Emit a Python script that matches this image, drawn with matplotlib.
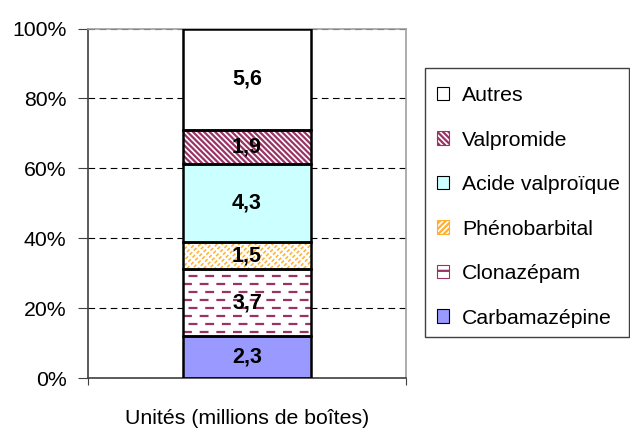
import matplotlib
matplotlib.use("Agg")
import matplotlib.pyplot as plt
import numpy as np

plt.rcParams['font.family'] = ['Liberation Sans', 'DejaVu Sans']
plt.rcParams['hatch.linewidth'] = 1.6

# data (millions de boîtes), bottom to top
drugs = ['Carbamazépine', 'Clonazépam', 'Phénobarbital', 'Acide valproïque', 'Valpromide', 'Autres']
units = [2.3, 3.7, 1.5, 4.3, 1.9, 5.6]
value_labels = ['2,3', '3,7', '1,5', '4,3', '1,9', '5,6']
category = ['Unités (millions de boîtes)']

faces = ['#9999FF', 'white', 'white', '#CCFFFF', 'white', 'white']
hatches = [None, None, '//////', None, '\\\\\\\\\\\\', None]
hatch_cols = ['black', '#993366', '#FFB030', 'black', '#993366', 'black']
hatch_lw = [1.0, 1.0, 1.1, 1.0, 1.6, 1.0]

shares = np.array(units) / sum(units) * 100
bottoms = np.concatenate([[0], np.cumsum(shares)[:-1]])
bar_w = 0.4

fig = plt.figure(figsize=(6.3, 4.32), dpi=100)
ax = fig.add_axes([0.1397, 0.125, 0.5048, 0.809])

handles = []
for i, name in enumerate(drugs):
    with plt.rc_context({'hatch.linewidth': hatch_lw[i]}):
        ax.bar(0, shares[i], bottom=bottoms[i], width=bar_w, color=faces[i],
               hatch=hatches[i], edgecolor=hatch_cols[i], linewidth=0, zorder=2)
        h = plt.Rectangle((0, 0), 1, 1, facecolor=faces[i],
                          hatch=hatches[i] if hatches[i] else ('--' if name == 'Clonazépam' else None),
                          edgecolor=hatch_cols[i], linewidth=0.8)
    if name == 'Phénobarbital':
        # break the orange lines into short dashes
        ax.bar(0, shares[i], bottom=bottoms[i], width=bar_w, fill=False,
               hatch='\\\\\\\\', edgecolor='white', linewidth=0, zorder=2.2)
    if name == 'Clonazépam':
        # dashed horizontal texture
        step = 2.3
        ys = np.arange(bottoms[i] + step / 2, bottoms[i] + shares[i], step)
        for k, y in enumerate(ys):
            off = 0 if k % 2 == 0 else 5
            ax.plot([-bar_w / 2, bar_w / 2], [y, y], color='#993366', lw=1.6,
                    linestyle=(off, (4, 3.5)), zorder=2.5, dash_capstyle='butt')
    ax.bar(0, shares[i], bottom=bottoms[i], width=bar_w, fill=False,
           edgecolor='black', linewidth=1.8, zorder=3)
    ax.text(0, bottoms[i] + shares[i] / 2, value_labels[i], ha='center', va='center',
            fontsize=15.5, fontweight='bold', zorder=4)
    handles.append(h)

ax.set_xlim(-0.5, 0.5)
ax.set_ylim(0, 100)
ax.set_yticks(np.arange(0, 101, 20))
ax.set_yticklabels([f'{v}%' for v in range(0, 101, 20)], fontsize=15.3)
ax.set_xticks([-0.5, 0.5])
ax.set_xticklabels(['', ''])
ax.tick_params(axis='x', length=5, color='#404040')
ax.tick_params(axis='y', length=7, color='#404040', pad=8.5)
ax.yaxis.grid(True, linestyle=(0, (6, 4)), color='black', linewidth=0.8, zorder=0)
ax.set_axisbelow(True)
for s in ['left', 'bottom']:
    ax.spines[s].set_color('#404040')
    ax.spines[s].set_linewidth(1.2)
for s in ['top', 'right']:
    ax.spines[s].set_color('#A0A0A0')
    ax.spines[s].set_linewidth(1.2)
ax.set_xlabel(category[0], fontsize=15.3, labelpad=14)

# legend frame drawn separately so the entries can sit where the reference has them
W, H = 630, 432
frame = plt.Rectangle((425 / W, 1 - 337 / H), (629 - 425) / W, (337 - 68) / H,
                      transform=fig.transFigure, fill=False, edgecolor='#404040',
                      linewidth=1.0)
fig.add_artist(frame)
leg = fig.legend(handles[::-1], drugs[::-1], loc='upper left',
                 bbox_to_anchor=(425 / W, 1 - 74.5 / H), fontsize=15.3,
                 frameon=False, handlelength=0.6, handleheight=0.6,
                 handletextpad=0.6, labelspacing=1.2, borderpad=0.55,
                 borderaxespad=0)
for h in leg.legend_handles:
    if hasattr(h, 'set_hatchcolor'):
        h.set_hatchcolor(h.get_edgecolor())
        h.set_edgecolor('black')

fig.savefig('out.png', dpi=100)
